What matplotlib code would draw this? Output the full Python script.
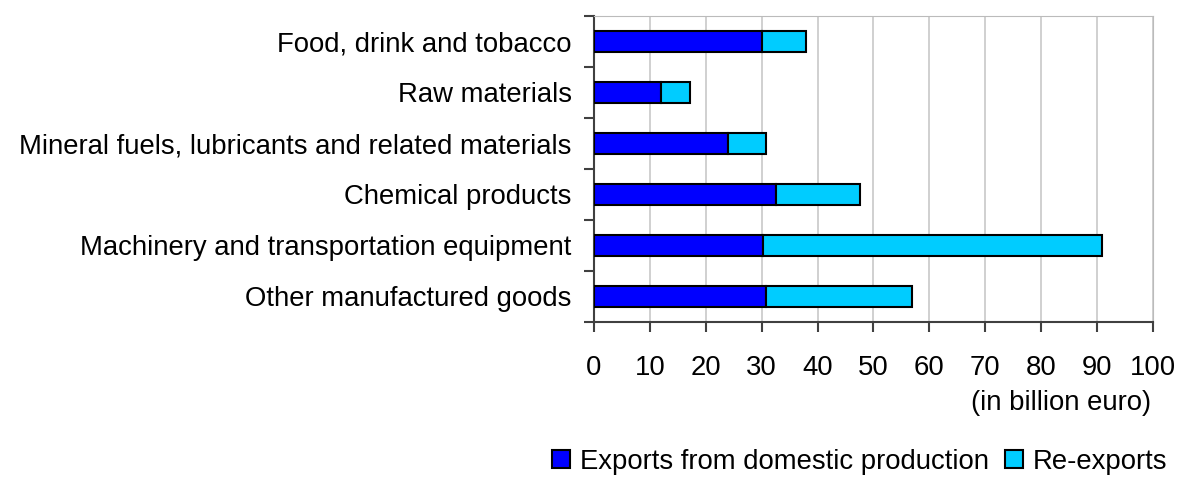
import numpy as np
import matplotlib.pyplot as plt

plt.rcParams['font.family'] = ['Liberation Sans', 'DejaVu Sans']

# datos (mil millones de euros)
categorias = ["Food, drink and tobacco",
              "Raw materials",
              "Mineral fuels, lubricants and related materials",
              "Chemical products",
              "Machinery and transportation equipment",
              "Other manufactured goods"]
domestica = [30.1, 12.0, 24.0, 32.6, 30.2, 30.8]
reexport = [7.9, 5.2, 6.8, 15.0, 60.7, 26.1]

ticks_x = [0, 10, 20, 30, 40, 50, 60, 70, 80, 90, 100]

fs = 19.8

fig = plt.figure(figsize=(11.78, 4.84), dpi=100)
ax = fig.add_axes([0.5042, 0.3353, 0.4746, 0.6317])

y = np.arange(len(categorias))
ax.barh(y, domestica, height=0.42, color='#0000ff', edgecolor='black',
        linewidth=1.5, label='Exports from domestic production', zorder=3)
ax.barh(y, reexport, left=domestica, height=0.42, color='#00ccff',
        edgecolor='black', linewidth=1.5, label='Re-exports', zorder=3)

ax.set_ylim(len(categorias) - 0.5, -0.5)
ax.set_xlim(0, 100)
ax.set_xticks(ticks_x)
ax.set_xticklabels([str(t) for t in ticks_x], fontsize=fs)

# etiquetas de categoria en el centro, marcas en los bordes
ax.set_yticks(y)
ax.set_yticklabels(categorias, fontsize=fs)
ax.tick_params(axis='y', length=0, pad=16)
ax.set_yticks(np.arange(len(categorias) + 1) - 0.5, minor=True)
ax.tick_params(axis='y', which='minor', length=7, width=1.5, color='#404040')
ax.tick_params(axis='x', length=7, width=1.5, color='#404040', pad=17)

ax.grid(axis='x', color='#c8c8c8', linewidth=1.2, zorder=0)
ax.spines['left'].set_color('#404040')
ax.spines['left'].set_linewidth(1.5)
ax.spines['bottom'].set_color('#404040')
ax.spines['bottom'].set_linewidth(1.5)
ax.spines['top'].set_color('#bbbbbb')
ax.spines['right'].set_color('#bbbbbb')

fig.text(0.977, 0.167, '(in billion euro)', ha='right', va='center', fontsize=fs)

fig.legend(loc='center right', bbox_to_anchor=(1.0, 0.046), ncol=2,
           frameon=False, fontsize=fs, handlelength=0.65, handleheight=0.65,
           handletextpad=0.35, columnspacing=0.6, borderaxespad=0)

plt.savefig("out.png", dpi=100)
